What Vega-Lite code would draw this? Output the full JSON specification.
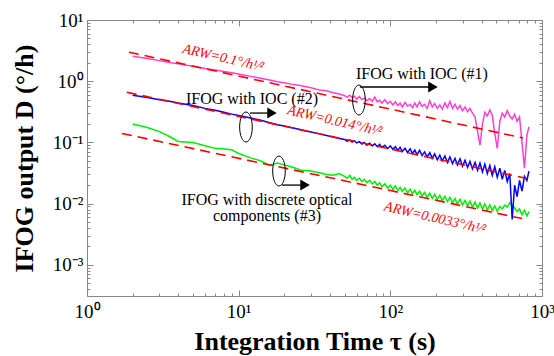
{
  "$schema": "https://vega.github.io/schema/vega-lite/v6.json",
  "width": 455,
  "height": 276,
  "autosize": {"type": "none"},
  "padding": {"left": 87, "top": 20, "right": 12, "bottom": 60},
  "config": {"view": {"stroke": null}, "font": "Liberation Serif"},
  "datasets": {
    "curves": [
      {"t":2,"m":2.55,"b":0.59,"g":0.2},
      {"t":2.5,"m":2.35,"b":0.54,"g":0.175},
      {"t":3,"m":2.17,"b":0.5,"g":0.15},
      {"t":3.5,"m":2.03,"b":0.47,"g":0.125},
      {"t":4,"m":1.92,"b":0.44,"g":0.104},
      {"t":5,"m":1.75,"b":0.4,"g":0.1},
      {"t":6,"m":1.62,"b":0.36,"g":0.088},
      {"t":7,"m":1.52,"b":0.335,"g":0.08},
      {"t":8,"m":1.44,"b":0.31,"g":0.078},
      {"t":9,"m":1.38,"b":0.29,"g":0.076},
      {"t":10,"m":1.31,"b":0.275,"g":0.066},
      {"t":12,"m":1.2,"b":0.25,"g":0.056},
      {"t":14,"m":1.12,"b":0.23,"g":0.05},
      {"t":16,"m":1.05,"b":0.21,"g":0.042},
      {"t":18,"m":0.98,"b":0.195,"g":0.046},
      {"t":20,"m":0.94,"b":0.185,"g":0.043},
      {"t":23,"m":0.88,"b":0.172,"g":0.039},
      {"t":26,"m":0.84,"b":0.16,"g":0.035},
      {"t":30,"m":0.78,"b":0.148,"g":0.034},
      {"t":34,"m":0.72,"b":0.138,"g":0.032},
      {"t":38,"m":0.7,"b":0.13,"g":0.03},
      {"t":42,"m":0.65,"b":0.122,"g":0.029},
      {"t":46,"m":0.62,"b":0.116,"g":0.031},
      {"t":50,"m":0.58,"b":0.112,"g":0.028},
      {"t":52,"m":0.55,"b":0.104,"g":0.026},
      {"t":54,"m":0.59,"b":0.11,"g":0.029},
      {"t":56,"m":0.54,"b":0.101,"g":0.025},
      {"t":58,"m":0.57,"b":0.106,"g":0.027},
      {"t":60,"m":0.51,"b":0.098,"g":0.024},
      {"t":62.5,"m":0.56,"b":0.103,"g":0.026},
      {"t":65,"m":0.5,"b":0.094,"g":0.023},
      {"t":67.5,"m":0.53,"b":0.1,"g":0.025},
      {"t":70,"m":0.48,"b":0.09,"g":0.022},
      {"t":73,"m":0.52,"b":0.097,"g":0.024},
      {"t":76,"m":0.47,"b":0.088,"g":0.021},
      {"t":79,"m":0.55,"b":0.095,"g":0.023},
      {"t":82,"m":0.46,"b":0.085,"g":0.02},
      {"t":85,"m":0.49,"b":0.093,"g":0.022},
      {"t":88,"m":0.44,"b":0.083,"g":0.019},
      {"t":92,"m":0.5,"b":0.09,"g":0.021},
      {"t":96,"m":0.43,"b":0.079,"g":0.018},
      {"t":100,"m":0.47,"b":0.088,"g":0.02},
      {"t":104,"m":0.41,"b":0.077,"g":0.017},
      {"t":108,"m":0.46,"b":0.085,"g":0.0195},
      {"t":112,"m":0.4,"b":0.074,"g":0.0165},
      {"t":116,"m":0.44,"b":0.083,"g":0.0185},
      {"t":120,"m":0.38,"b":0.071,"g":0.0158},
      {"t":125,"m":0.45,"b":0.08,"g":0.018},
      {"t":130,"m":0.39,"b":0.068,"g":0.015},
      {"t":135,"m":0.42,"b":0.079,"g":0.0172},
      {"t":140,"m":0.37,"b":0.066,"g":0.0145},
      {"t":145,"m":0.44,"b":0.075,"g":0.0165},
      {"t":150,"m":0.38,"b":0.063,"g":0.014},
      {"t":156,"m":0.46,"b":0.074,"g":0.016},
      {"t":162,"m":0.39,"b":0.061,"g":0.0133},
      {"t":168,"m":0.42,"b":0.07,"g":0.0152},
      {"t":175,"m":0.36,"b":0.058,"g":0.0128},
      {"t":182,"m":0.48,"b":0.068,"g":0.0148},
      {"t":189,"m":0.38,"b":0.055,"g":0.0122},
      {"t":196,"m":0.43,"b":0.065,"g":0.0142},
      {"t":204,"m":0.36,"b":0.052,"g":0.0118},
      {"t":212,"m":0.41,"b":0.062,"g":0.0137},
      {"t":220,"m":0.35,"b":0.05,"g":0.0112},
      {"t":229,"m":0.44,"b":0.06,"g":0.0132},
      {"t":238,"m":0.37,"b":0.047,"g":0.0108},
      {"t":247,"m":0.47,"b":0.058,"g":0.0127},
      {"t":257,"m":0.36,"b":0.045,"g":0.0104},
      {"t":267,"m":0.42,"b":0.055,"g":0.0122},
      {"t":277,"m":0.35,"b":0.043,"g":0.0098},
      {"t":288,"m":0.4,"b":0.054,"g":0.0118},
      {"t":299,"m":0.33,"b":0.041,"g":0.0095},
      {"t":311,"m":0.38,"b":0.051,"g":0.0113},
      {"t":323,"m":0.32,"b":0.039,"g":0.0092},
      {"t":335,"m":0.36,"b":0.049,"g":0.011},
      {"t":348,"m":0.3,"b":0.037,"g":0.0088},
      {"t":362,"m":0.26,"b":0.047,"g":0.0106},
      {"t":376,"m":0.15,"b":0.035,"g":0.0085},
      {"t":390,"m":0.09,"b":0.046,"g":0.0102},
      {"t":405,"m":0.2,"b":0.033,"g":0.0082},
      {"t":420,"m":0.31,"b":0.044,"g":0.0099},
      {"t":436,"m":0.27,"b":0.031,"g":0.0079},
      {"t":453,"m":0.34,"b":0.042,"g":0.0096},
      {"t":470,"m":0.28,"b":0.029,"g":0.0077},
      {"t":488,"m":0.14,"b":0.04,"g":0.0092},
      {"t":507,"m":0.08,"b":0.027,"g":0.0075},
      {"t":527,"m":0.22,"b":0.038,"g":0.009},
      {"t":547,"m":0.3,"b":0.025,"g":0.0082},
      {"t":568,"m":0.26,"b":0.035,"g":0.0095},
      {"t":590,"m":0.33,"b":0.023,"g":0.0088},
      {"t":613,"m":0.27,"b":0.031,"g":0.0104},
      {"t":636,"m":0.24,"b":0.0055,"g":0.0096},
      {"t":660,"m":0.29,"b":0.02,"g":0.0085},
      {"t":685,"m":0.22,"b":0.013,"g":0.0074},
      {"t":711,"m":0.26,"b":0.024,"g":0.0082},
      {"t":738,"m":0.1,"b":0.016,"g":0.0066},
      {"t":766,"m":0.038,"b":0.028,"g":0.0078},
      {"t":795,"m":0.13,"b":0.024,"g":0.0063},
      {"t":820,"m":0.18,"b":0.034,"g":0.0074}
    ],
    "fits": [
      {"f":"1","t":1.89,"v":2.98},
      {"f":"1","t":750,"v":0.118},
      {"f":"2","t":1.83,"v":0.66},
      {"f":"2","t":780,"v":0.026},
      {"f":"3","t":1.7,"v":0.14},
      {"f":"3","t":740,"v":0.0057}
    ],
    "arw": [
      {"t":7.9,"v":2.39,"text":"ARW=0.1°/h¹⁄²"},
      {"t":43,"v":0.224,"text":"ARW=0.014°/h¹⁄²"},
      {"t":197,"v":0.0058,"text":"ARW=0.0033°/h¹⁄²"}
    ],
    "notes": [
      {"t":161.6,"v":1.31,"text":"IFOG with IOC (#1)"},
      {"t":12.24,"v":0.512,"text":"IFOG with IOC (#2)"},
      {"t":15.37,"v":0.01146,"text":"IFOG with discrete optical"},
      {"t":15.37,"v":0.00627,"text":"components (#3)"}
    ],
    "ellipses": [
      {"t":62.1,"v":0.493},
      {"t":11.17,"v":0.1787},
      {"t":18.44,"v":0.0341}
    ],
    "arrows": [
      {"a":"1","t":63,"v":0.804},
      {"a":"1","t":191,"v":0.804},
      {"a":"2","t":11.87,"v":0.302},
      {"a":"2","t":16.58,"v":0.302},
      {"a":"3","t":19.3,"v":0.0201},
      {"a":"3","t":27.4,"v":0.0201}
    ],
    "heads": [
      {"t":191,"v":0.804},
      {"t":16.58,"v":0.302},
      {"t":27.4,"v":0.0201}
    ]
  },
  "resolve": {"axis": {"x": "independent", "y": "independent"}},
  "layer": [
    {
      "data": {"name": "curves"},
      "transform": [{"fold": ["g", "m", "b"], "as": ["s", "v"]}],
      "mark": {"type": "line", "strokeWidth": 1.5},
      "encoding": {
        "x": {
          "field": "t", "type": "quantitative",
          "scale": {"type": "log", "domain": [1, 1000], "nice": false},
          "axis": {
            "orient": "bottom",
            "values": [1,2,3,4,5,6,7,8,9,10,20,30,40,50,60,70,80,90,100,200,300,400,500,600,700,800,900,1000],
            "labelExpr": "datum.value==1?'10⁰':datum.value==10?'10¹':datum.value==100?'10²':datum.value==1000?'10³':''",
            "tickSize": {"condition": {"test": "indexof([1,10,100,1000],datum.value)>=0", "value": -6}, "value": -3},
            "labelPadding": 12,
            "labelFontSize": 19,
            "labelFont": "Liberation Serif",
            "labelColor": "black",
            "labelFlush": false,
            "labelOverlap": false,
            "domainColor": "#888",
            "tickColor": "#888",
            "grid": false,
            "title": "Integration Time  τ (s)",
            "titleFont": "Liberation Serif",
            "titleFontSize": 26,
            "titleFontWeight": "bold",
            "titleColor": "black",
            "titlePadding": 4
          }
        },
        "y": {
          "field": "v", "type": "quantitative",
          "scale": {"type": "log", "domain": [0.00031, 10], "nice": false},
          "axis": {
            "orient": "left",
            "values": [0.0004,0.0005,0.0006,0.0007,0.0008,0.0009,0.001,0.002,0.003,0.004,0.005,0.006,0.007,0.008,0.009,0.01,0.02,0.03,0.04,0.05,0.06,0.07,0.08,0.09,0.1,0.2,0.3,0.4,0.5,0.6,0.7,0.8,0.9,1,2,3,4,5,6,7,8,9,10],
            "labelExpr": "datum.value==10?'10¹':datum.value==1?'10⁰':datum.value==0.1?'10⁻¹':datum.value==0.01?'10⁻²':datum.value==0.001?'10⁻³':''",
            "tickSize": {"condition": {"test": "indexof([0.001,0.01,0.1,1,10],datum.value)>=0", "value": -6}, "value": -3},
            "labelPadding": 10,
            "labelFontSize": 19,
            "labelFont": "Liberation Serif",
            "labelColor": "black",
            "labelFlush": false,
            "labelOverlap": false,
            "domainColor": "#888",
            "tickColor": "#888",
            "grid": false,
            "title": "IFOG output D (°/h)",
            "titleFont": "Liberation Serif",
            "titleFontSize": 26,
            "titleFontWeight": "bold",
            "titleColor": "black",
            "titlePadding": 15
          }
        },
        "color": {
          "field": "s", "type": "nominal",
          "scale": {"domain": ["m", "b", "g"], "range": ["#ff40d0", "#0000ff", "#00ee00"]},
          "legend": null
        }
      }
    },
    {
      "data": {"name": "fits"},
      "mark": {"type": "line", "color": "#ff0000", "strokeWidth": 1.6, "strokeDash": [10, 6]},
      "encoding": {
        "x": {
          "field": "t", "type": "quantitative",
          "axis": {
            "orient": "top",
            "values": [1,2,3,4,5,6,7,8,9,10,20,30,40,50,60,70,80,90,100,200,300,400,500,600,700,800,900,1000],
            "labels": false,
            "title": null,
            "tickSize": {"condition": {"test": "indexof([1,10,100,1000],datum.value)>=0", "value": -6}, "value": -3},
            "domainColor": "#888",
            "tickColor": "#888",
            "grid": false
          }
        },
        "y": {
          "field": "v", "type": "quantitative",
          "axis": {
            "orient": "right",
            "values": [0.0004,0.0005,0.0006,0.0007,0.0008,0.0009,0.001,0.002,0.003,0.004,0.005,0.006,0.007,0.008,0.009,0.01,0.02,0.03,0.04,0.05,0.06,0.07,0.08,0.09,0.1,0.2,0.3,0.4,0.5,0.6,0.7,0.8,0.9,1,2,3,4,5,6,7,8,9,10],
            "labels": false,
            "title": null,
            "tickSize": {"condition": {"test": "indexof([0.001,0.01,0.1,1,10],datum.value)>=0", "value": -6}, "value": -3},
            "domainColor": "#888",
            "tickColor": "#888",
            "grid": false
          }
        },
        "detail": {"field": "f", "type": "nominal"}
      }
    },
    {
      "data": {"name": "arw"},
      "mark": {"type": "text", "color": "#ff0000", "font": "Liberation Serif", "fontStyle": "italic", "fontSize": 14, "angle": 13, "align": "center", "baseline": "middle"},
      "encoding": {
        "x": {"field": "t", "type": "quantitative", "axis": null},
        "y": {"field": "v", "type": "quantitative", "axis": null},
        "text": {"field": "text"}
      }
    },
    {
      "data": {"name": "notes"},
      "mark": {"type": "text", "color": "black", "font": "Liberation Serif", "fontSize": 16, "align": "center", "baseline": "middle"},
      "encoding": {
        "x": {"field": "t", "type": "quantitative", "axis": null},
        "y": {"field": "v", "type": "quantitative", "axis": null},
        "text": {"field": "text"}
      }
    },
    {
      "data": {"name": "ellipses"},
      "mark": {"type": "point", "shape": "M0,-1A0.42,1,0,1,1,0,1A0.42,1,0,1,1,0,-1Z", "size": 900, "filled": false, "stroke": "black", "strokeWidth": 1, "opacity": 1},
      "encoding": {
        "x": {"field": "t", "type": "quantitative", "axis": null},
        "y": {"field": "v", "type": "quantitative", "axis": null}
      }
    },
    {
      "data": {"name": "arrows"},
      "mark": {"type": "line", "color": "black", "strokeWidth": 1.3},
      "encoding": {
        "x": {"field": "t", "type": "quantitative", "axis": null},
        "y": {"field": "v", "type": "quantitative", "axis": null},
        "detail": {"field": "a", "type": "nominal"}
      }
    },
    {
      "data": {"name": "heads"},
      "mark": {"type": "point", "shape": "triangle-right", "size": 120, "filled": true, "color": "black", "opacity": 1},
      "encoding": {
        "x": {"field": "t", "type": "quantitative", "axis": null},
        "y": {"field": "v", "type": "quantitative", "axis": null}
      }
    }
  ]
}
